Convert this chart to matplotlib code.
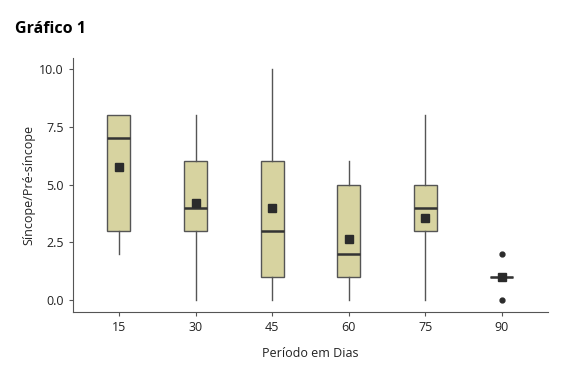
import numpy as np
import matplotlib
matplotlib.use("Agg")
import matplotlib.pyplot as plt

plt.rcParams["font.family"] = ["Open Sans", "DejaVu Sans"]

# data
periods = ["15", "30", "45", "60", "75", "90"]
whislo = [2, 0, 0, 0, 0, 1]
q1 = [3, 3, 1, 1, 3, 1]
med = [7, 4, 3, 2, 4, 1]
q3 = [8, 6, 6, 5, 5, 1]
whishi = [8, 8, 10, 6, 8, 1]
means = [5.75, 4.2, 4.0, 2.65, 3.55, 1.0]
fliers = [[], [], [], [], [], [2, 0]]

stats = [dict(label=p, whislo=a, q1=b, med=c, q3=d, whishi=e, mean=m, fliers=f)
         for p, a, b, c, d, e, m, f in zip(periods, whislo, q1, med, q3, whishi, means, fliers)]

fig = plt.figure(figsize=(5.66, 3.89), dpi=100)
ax = fig.add_axes([0.129, 0.198, 0.839, 0.653])

edge = "#555555"
ax.bxp(stats, positions=range(len(periods)), widths=0.3, patch_artist=True,
       showmeans=True, showcaps=False,
       boxprops=dict(facecolor="#d7d3a0", edgecolor=edge, linewidth=1.0),
       medianprops=dict(color="#333333", linewidth=1.8),
       whiskerprops=dict(color=edge, linewidth=1.0),
       meanprops=dict(marker="s", markerfacecolor="#2b2b2b", markeredgecolor="#2b2b2b", markersize=6),
       flierprops=dict(marker="o", markerfacecolor="#2b2b2b", markeredgecolor="#2b2b2b", markersize=3.5))

ax.set_xlim(-0.6, len(periods) - 0.4)
ax.set_ylim(-0.52, 10.48)
ax.set_yticks([0, 2.5, 5, 7.5, 10])
ax.set_yticklabels(["0.0", "2.5", "5.0", "7.5", "10.0"])
ax.set_xticks(range(len(periods)))
ax.set_xticklabels(periods)
for s in ["top", "right"]:
    ax.spines[s].set_visible(False)
for s in ["left", "bottom"]:
    ax.spines[s].set_color(edge)
ax.tick_params(colors=edge, labelcolor="#222222", labelsize=9, length=3)

ax.set_ylabel("Síncope/Pré-síncope", fontsize=9, color="#222222", labelpad=3)
ax.set_xlabel("Período em Dias", fontsize=9, color="#222222", labelpad=9)
fig.text(0.027, 0.926, "Gráfico 1", fontsize=11.5, fontweight="bold", va="center")

fig.savefig("out.png", dpi=100)
